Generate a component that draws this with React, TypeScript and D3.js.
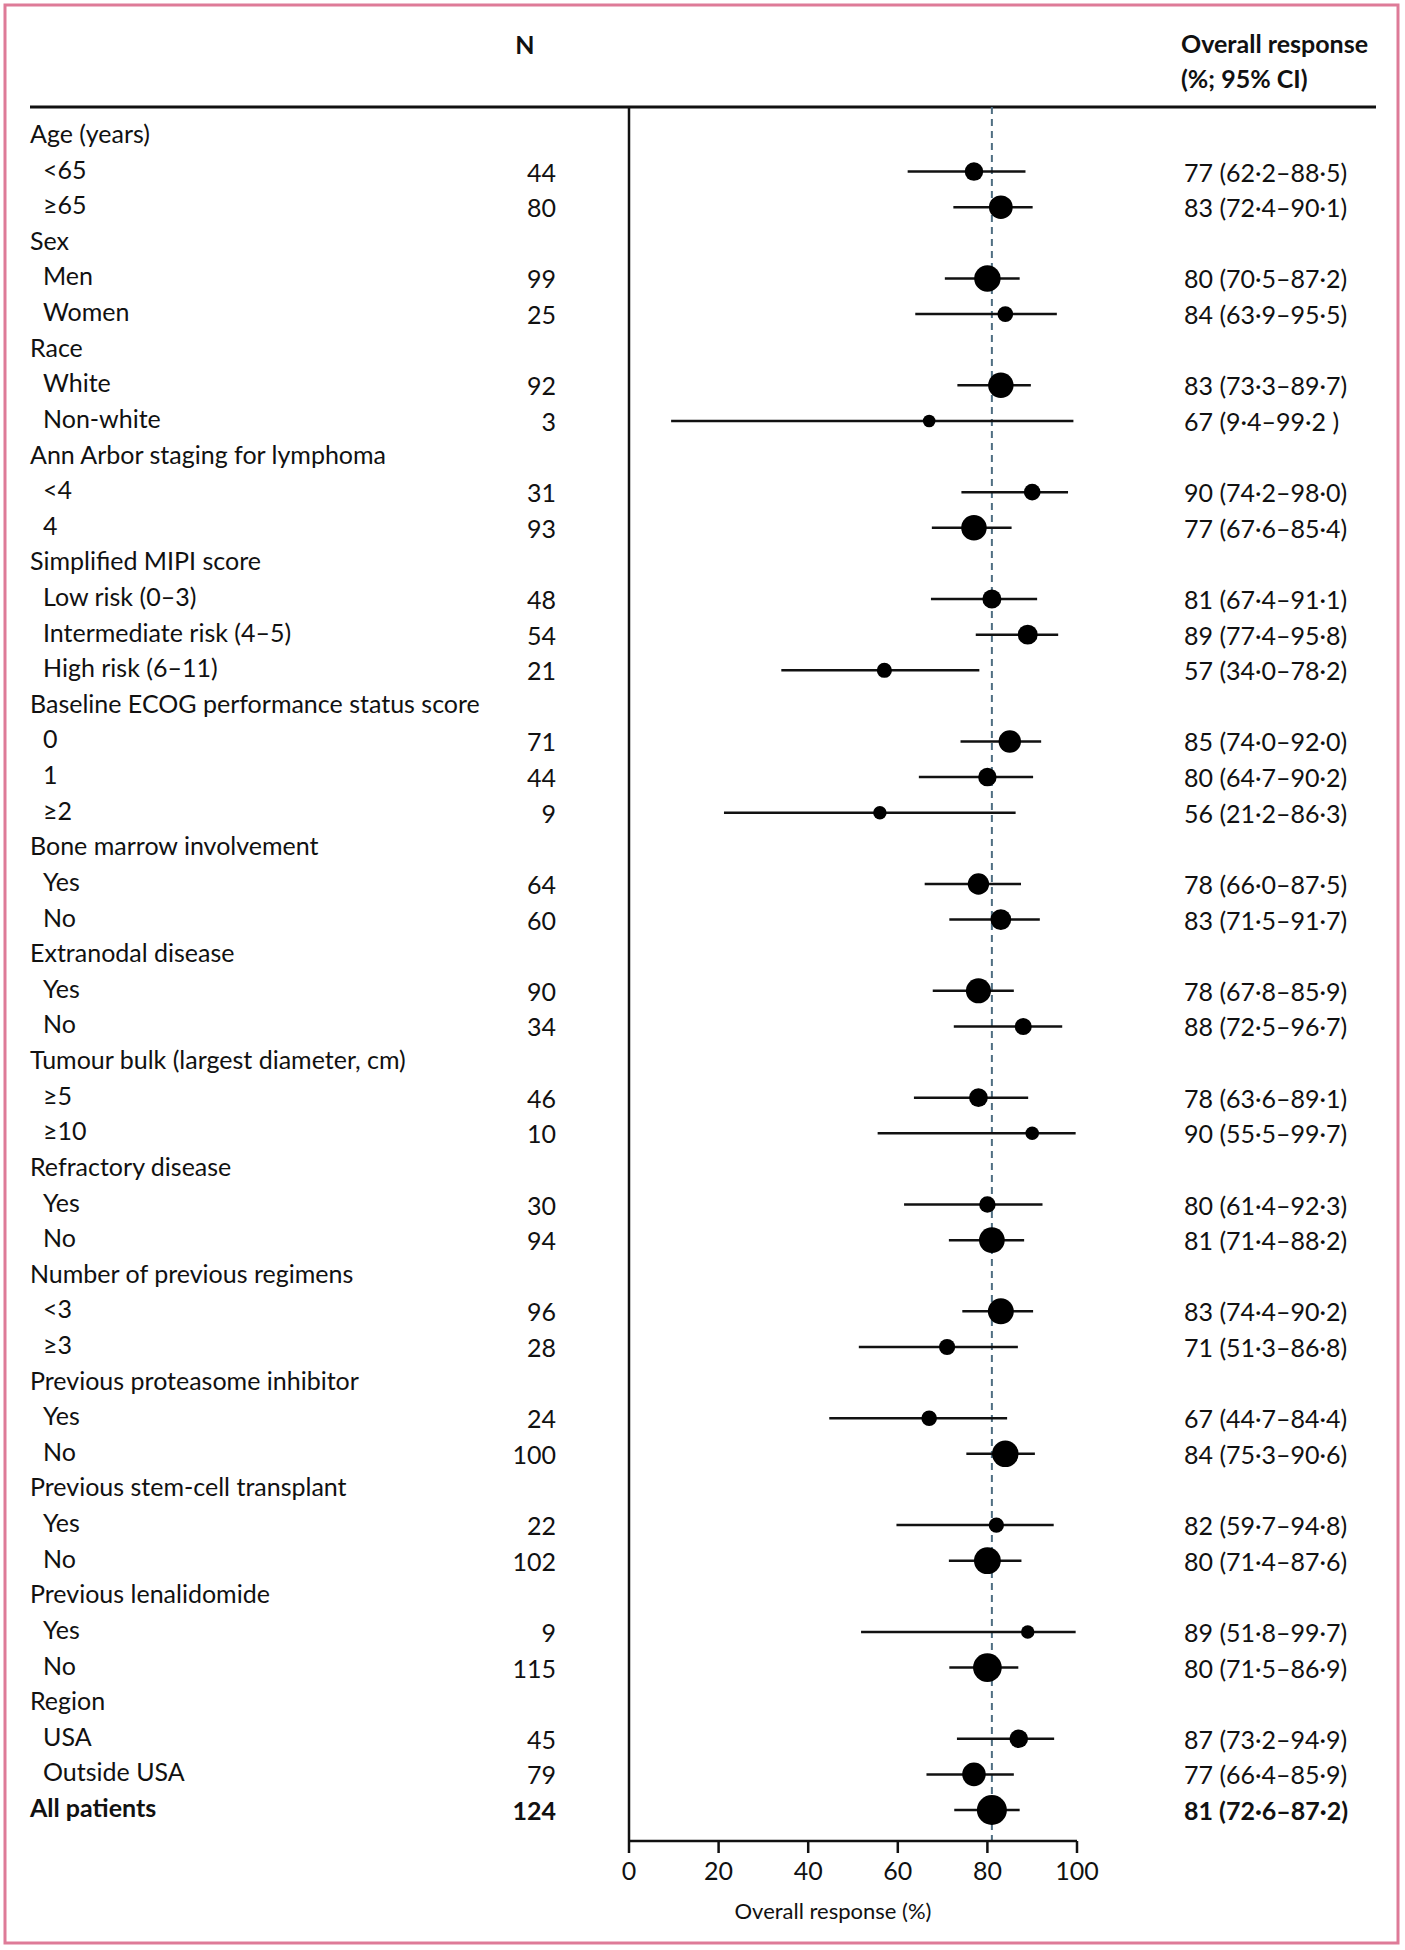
import React from "react";
import * as d3 from "d3";

const rowLabels = [
  "Age (years)", "<65", "≥65",
  "Sex", "Men", "Women",
  "Race", "White", "Non-white",
  "Ann Arbor staging for lymphoma", "<4", "4",
  "Simplified MIPI score", "Low risk (0–3)", "Intermediate risk (4–5)", "High risk (6–11)",
  "Baseline ECOG performance status score", "0", "1", "≥2",
  "Bone marrow involvement", "Yes", "No",
  "Extranodal disease", "Yes", "No",
  "Tumour bulk (largest diameter, cm)", "≥5", "≥10",
  "Refractory disease", "Yes", "No",
  "Number of previous regimens", "<3", "≥3",
  "Previous proteasome inhibitor", "Yes", "No",
  "Previous stem-cell transplant", "Yes", "No",
  "Previous lenalidomide", "Yes", "No",
  "Region", "USA", "Outside USA",
  "All patients",
];

// "g" = group heading, "s" = subgroup, "t" = total
const rowKinds = [
  "g", "s", "s",
  "g", "s", "s",
  "g", "s", "s",
  "g", "s", "s",
  "g", "s", "s", "s",
  "g", "s", "s", "s",
  "g", "s", "s",
  "g", "s", "s",
  "g", "s", "s",
  "g", "s", "s",
  "g", "s", "s",
  "g", "s", "s",
  "g", "s", "s",
  "g", "s", "s",
  "g", "s", "s",
  "t",
];

const nValues = [
  null, 44, 80,
  null, 99, 25,
  null, 92, 3,
  null, 31, 93,
  null, 48, 54, 21,
  null, 71, 44, 9,
  null, 64, 60,
  null, 90, 34,
  null, 46, 10,
  null, 30, 94,
  null, 96, 28,
  null, 24, 100,
  null, 22, 102,
  null, 9, 115,
  null, 45, 79,
  124,
];

const estimates = [
  null, 77, 83,
  null, 80, 84,
  null, 83, 67,
  null, 90, 77,
  null, 81, 89, 57,
  null, 85, 80, 56,
  null, 78, 83,
  null, 78, 88,
  null, 78, 90,
  null, 80, 81,
  null, 83, 71,
  null, 67, 84,
  null, 82, 80,
  null, 89, 80,
  null, 87, 77,
  81,
];

const lowerCI = [
  null, 62.2, 72.4,
  null, 70.5, 63.9,
  null, 73.3, 9.4,
  null, 74.2, 67.6,
  null, 67.4, 77.4, 34.0,
  null, 74.0, 64.7, 21.2,
  null, 66.0, 71.5,
  null, 67.8, 72.5,
  null, 63.6, 55.5,
  null, 61.4, 71.4,
  null, 74.4, 51.3,
  null, 44.7, 75.3,
  null, 59.7, 71.4,
  null, 51.8, 71.5,
  null, 73.2, 66.4,
  72.6,
];

const upperCI = [
  null, 88.5, 90.1,
  null, 87.2, 95.5,
  null, 89.7, 99.2,
  null, 98.0, 85.4,
  null, 91.1, 95.8, 78.2,
  null, 92.0, 90.2, 86.3,
  null, 87.5, 91.7,
  null, 85.9, 96.7,
  null, 89.1, 99.7,
  null, 92.3, 88.2,
  null, 90.2, 86.8,
  null, 84.4, 90.6,
  null, 94.8, 87.6,
  null, 99.7, 86.9,
  null, 94.9, 85.9,
  87.2,
];

const ciLabels = [
  "", "77 (62·2–88·5)", "83 (72·4–90·1)",
  "", "80 (70·5–87·2)", "84 (63·9–95·5)",
  "", "83 (73·3–89·7)", "67 (9·4–99·2 )",
  "", "90 (74·2–98·0)", "77 (67·6–85·4)",
  "", "81 (67·4–91·1)", "89 (77·4–95·8)", "57 (34·0–78·2)",
  "", "85 (74·0–92·0)", "80 (64·7–90·2)", "56 (21·2–86·3)",
  "", "78 (66·0–87·5)", "83 (71·5–91·7)",
  "", "78 (67·8–85·9)", "88 (72·5–96·7)",
  "", "78 (63·6–89·1)", "90 (55·5–99·7)",
  "", "80 (61·4–92·3)", "81 (71·4–88·2)",
  "", "83 (74·4–90·2)", "71 (51·3–86·8)",
  "", "67 (44·7–84·4)", "84 (75·3–90·6)",
  "", "82 (59·7–94·8)", "80 (71·4–87·6)",
  "", "89 (51·8–99·7)", "80 (71·5–86·9)",
  "", "87 (73·2–94·9)", "77 (66·4–85·9)",
  "81 (72·6–87·2)",
];

const xTicks = [0, 20, 40, 60, 80, 100];
const overallResponse = 81;

const W = 1405;
const H = 1950;
const FONT = "Lato, 'Liberation Sans', sans-serif";

export default function App() {
  const x = d3.scaleLinear().domain([0, 100]).range([629, 1077]);
  const y = d3.scaleLinear().domain([0, rowLabels.length - 1]).range([133, 1807]);
  const nExtent = d3.extent(nValues.filter((v) => v != null) as number[]) as [number, number];
  const r = d3.scaleLinear().domain(nExtent).range([6.3, 15]);

  const headerY = 107;
  const axisY = 1841;
  const fs = 25;

  return (
    <svg
      width={W}
      height={H}
      style={{ position: "absolute", left: 0, top: 0, background: "#fff" }}
      fontFamily={FONT}
    >
      <rect x={0} y={0} width={W} height={H} fill="#fff" />
      <rect x={5} y={5} width={1393} height={1938} fill="none" stroke="#de7b98" strokeWidth={3} />

      {/* Header */}
      <text x={525} y={44} fontSize={fs} fontWeight={700} textAnchor="middle" dominantBaseline="central" fill="#111">N</text>
      <text x={1181} y={43} fontSize={fs} fontWeight={700} dominantBaseline="central" fill="#111">Overall response</text>
      <text x={1181} y={78} fontSize={fs} fontWeight={700} dominantBaseline="central" fill="#111">(%; 95% CI)</text>
      <line x1={30} x2={1376} y1={headerY} y2={headerY} stroke="#111" strokeWidth={3} />

      {/* reference line */}
      <line
        x1={x(overallResponse)}
        x2={x(overallResponse)}
        y1={headerY}
        y2={axisY}
        stroke="#4f6e82"
        strokeWidth={2}
        strokeDasharray="7,5"
      />

      {/* axes */}
      <line x1={x(0)} x2={x(0)} y1={headerY} y2={axisY} stroke="#111" strokeWidth={2.5} />
      <line x1={x(0)} x2={x(100)} y1={axisY} y2={axisY} stroke="#111" strokeWidth={2.5} />
      {xTicks.map((t) => (
        <g key={t}>
          <line x1={x(t)} x2={x(t)} y1={axisY} y2={axisY + 12} stroke="#111" strokeWidth={2.5} />
          <text x={x(t)} y={axisY + 29} fontSize={fs} textAnchor="middle" dominantBaseline="central" fill="#111">
            {t}
          </text>
        </g>
      ))}
      <text x={833} y={1910} fontSize={22} textAnchor="middle" dominantBaseline="central" fill="#111">
        Overall response (%)
      </text>

      {/* rows */}
      {rowLabels.map((label, i) => {
        const kind = rowKinds[i];
        const yy = y(i);
        const bold = kind === "t";
        const n = nValues[i];
        const est = estimates[i];
        const lo = lowerCI[i];
        const hi = upperCI[i];
        return (
          <g key={i}>
            <text
              x={kind === "s" ? 43 : 30}
              y={yy}
              fontSize={fs}
              fontWeight={bold ? 700 : 400}
              dominantBaseline="central"
              fill="#111"
            >
              {label}
            </text>
            {n != null && (
              <text x={556} y={yy + 3} fontSize={fs} fontWeight={bold ? 700 : 400} textAnchor="end" dominantBaseline="central" fill="#111">
                {n}
              </text>
            )}
            {est != null && lo != null && hi != null && n != null && (
              <g>
                <line x1={x(lo)} x2={x(hi)} y1={yy + 3} y2={yy + 3} stroke="#111" strokeWidth={2.5} />
                <circle cx={x(est)} cy={yy + 3} r={r(n)} fill="#000" />
              </g>
            )}
            {ciLabels[i] && (
              <text x={1184} y={yy + 3} fontSize={fs} fontWeight={bold ? 700 : 400} dominantBaseline="central" fill="#111">
                {ciLabels[i]}
              </text>
            )}
          </g>
        );
      })}
    </svg>
  );
}
